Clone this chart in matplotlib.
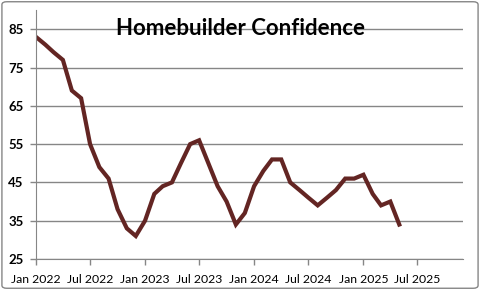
import datetime as dt
import matplotlib
matplotlib.use("Agg")
import matplotlib.pyplot as plt
import matplotlib.dates as mdates
from matplotlib.patches import FancyBboxPatch

plt.rcParams['font.family'] = ['Lato', 'DejaVu Sans']

# NAHB homebuilder confidence, monthly Jan 2022 - May 2025
values = [83, 81, 79, 77, 69, 67, 55, 49, 46, 38, 33, 31,
          35, 42, 44, 45, 50, 55, 56, 50, 44, 40, 34, 37,
          44, 48, 51, 51, 45, 43, 41, 39, 41, 43, 46, 46,
          47, 42, 39, 40, 34]
months = [dt.date(2022 + i // 12, i % 12 + 1, 1) for i in range(len(values))]
yticks = [25, 35, 45, 55, 65, 75, 85]

fig = plt.figure(figsize=(4.8, 2.9), dpi=100)
ax = fig.add_axes([0.075, 0.107, 0.89, 0.858])

ax.plot(months, values, color='#632523', lw=3, solid_joinstyle='miter')

ax.set_ylim(25, 90)
ax.set_yticks(yticks)
ax.set_xlim(dt.date(2022, 1, 1), dt.date(2025, 12, 1))
ax.xaxis.set_major_locator(mdates.MonthLocator(bymonth=[1, 7]))
ax.xaxis.set_major_formatter(mdates.DateFormatter('%b %Y'))

ax.grid(axis='y', color='#868686', lw=1)
ax.set_axisbelow(True)
for s in ['top', 'right']:
    ax.spines[s].set_visible(False)
for s in ['left', 'bottom']:
    ax.spines[s].set_color('#868686')
ax.tick_params(axis='both', color='#868686', length=4, width=1)
ax.tick_params(axis='x', pad=7, labelsize=8.8)
ax.tick_params(axis='y', pad=5, labelsize=9.5)
for lab in ax.get_yticklabels():
    lab.set_fontweight('bold')

fig.text(0.5, 0.902, 'Homebuilder Confidence', ha='center', va='center',
         fontsize=16, fontweight='bold')

fig.patches.append(FancyBboxPatch((0.004, 0.006), 0.992, 0.988,
                                  boxstyle='round,pad=0,rounding_size=0.01',
                                  transform=fig.transFigure, fill=False,
                                  edgecolor='#868686', lw=1))

fig.savefig('out.png', dpi=100)
